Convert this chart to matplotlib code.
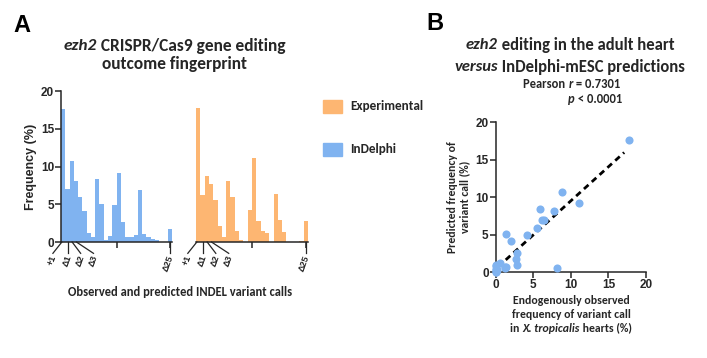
import matplotlib
matplotlib.use('Agg')
import matplotlib.pyplot as plt
import numpy as np
from matplotlib.transforms import blended_transform_factory

plt.rcParams['font.family'] = ['Liberation Sans', 'DejaVu Sans']

# frequency (%) of each variant call, +1 then deletions up to D25
indelphi = [17.6, 7.0, 10.7, 8.1, 5.9, 4.1, 1.2, 0.6, 8.4, 5.1, 0.3, 0.8, 4.9,
            9.2, 2.6, 0.7, 0.7, 0.9, 6.9, 1.0, 0.6, 0.4, 0.3, 0.0, 0.0, 1.7]
experimental = [17.7, 6.2, 8.8, 7.7, 5.5, 2.1, 0.6, 8.1, 5.9, 1.4, 0.2, 0.0, 4.2,
                11.1, 2.8, 1.4, 1.2, 0.0, 6.4, 2.85, 1.3, 0.0, 0.0, 0.0, 0.1, 2.75]
call_labels = ['+1', '\u03941', '\u03942', '\u03943', '\u039425']

blue = '#80b3f0'
orange = '#fdb672'
dark = '#262626'
tfont = ['Carlito', 'DejaVu Sans']
W, H = 707, 358

fig = plt.figure(figsize=(W / 100, H / 100), dpi=100)
rend = fig.canvas.get_renderer()


def rich(x_px, y_px, parts, size, ha='center'):
    # text made of plain / italic pieces, all bold
    texts = []
    for s, it in parts:
        texts.append(fig.text(0, 1 - y_px / H, s, fontsize=size, family=tfont,
                              weight='bold', style='italic' if it else 'normal',
                              va='center', ha='left', color=dark))
    widths = [t.get_window_extent(rend).width for t in texts]
    total = sum(widths)
    if ha == 'center':
        start = x_px - total / 2
    elif ha == 'right':
        start = x_px - total
    else:
        start = x_px
    for t, w in zip(texts, widths):
        t.set_x(start / W)
        start += w


ax1 = fig.add_axes([0.0863, 0.324, 0.157, 0.4218])
ax2 = fig.add_axes([0.2772, 0.324, 0.1584, 0.4218])
ax3 = fig.add_axes([0.7011, 0.2402, 0.2126, 0.419])

x = np.arange(len(indelphi))
ax1.bar(x, indelphi, width=1.0, color=blue, linewidth=0)
ax2.bar(x, experimental, width=1.0, color=orange, linewidth=0)

# leader lines from bar to the label (top x, label x)
line_top = [-0.3, 1.1, 2.1, 3.1, 25]
line_end = [-2.4, 1.1, 4.1, 7.1, 25]

for ax in (ax1, ax2):
    ax.set_xlim(-0.5, 25.5)
    ax.set_ylim(0, 20)
    for s in ['top', 'right']:
        ax.spines[s].set_visible(False)
    ax.spines['bottom'].set_linewidth(1.1)
    ax.spines['bottom'].set_color(dark)
    ax.set_xticks([12.5, 25])
    ax.set_xticklabels([])
    ax.tick_params(axis='x', length=4, width=1.1, color=dark)
    tr = blended_transform_factory(ax.transData, ax.transAxes)
    for lab, t, e in zip(call_labels, line_top, line_end):
        ax.plot([t, e], [0, -0.075], color=dark, lw=0.9, transform=tr, clip_on=False)
        ax.text(e + 0.3, -0.09, lab, transform=tr, rotation=70, rotation_mode='anchor',
                ha='right', va='center', fontsize=6.5, color=dark, weight='bold')

ax1.spines['left'].set_linewidth(1.1)
ax1.spines['left'].set_color(dark)
ax1.set_yticks([0, 5, 10, 15, 20])
ax1.tick_params(axis='y', length=4, width=1.1, color=dark, labelsize=8.5, labelcolor=dark, pad=1)
for lb in ax1.get_yticklabels():
    lb.set_fontweight('bold')
ax1.set_ylabel('Frequency (%)', fontsize=9, color=dark, labelpad=3, weight='bold')
ax2.spines['left'].set_visible(False)
ax2.set_yticks([])

# legend
fig.patches.append(plt.Rectangle((323 / W, 1 - 113 / H), 19 / W, 13 / H,
                                 transform=fig.transFigure, color=orange, figure=fig))
fig.patches.append(plt.Rectangle((323 / W, 1 - 156 / H), 19 / W, 13 / H,
                                 transform=fig.transFigure, color=blue, figure=fig))
rich(350, 106, [('Experimental', False)], 9.5, ha='left')
rich(350, 149, [('InDelphi', False)], 9.5, ha='left')

fig.text(22 / W, 1 - 26 / H, 'A', fontsize=17, ha='center', va='center', weight='bold')
fig.text(435 / W, 1 - 24 / H, 'B', fontsize=17, ha='center', va='center', weight='bold')

rich(175, 46, [('ezh2', True), (' CRISPR/Cas9 gene editing', False)], 12.5)
rich(175, 64, [('outcome fingerprint', False)], 12.5)
rich(180, 292, [('Observed and predicted INDEL variant calls', False)], 9)

# scatter panel
ax3.scatter(experimental, indelphi, s=34, color=blue, linewidths=0, zorder=3, clip_on=False)
slope, icpt = np.polyfit(experimental, indelphi, 1)
fx = np.array([0.3, 17.1])
ax3.plot(fx, slope * fx + icpt, color='black', lw=2.0, ls=(0, (2.2, 1.6)), zorder=2)
ax3.set_xlim(0, 20)
ax3.set_ylim(0, 20)
ax3.set_xticks([0, 5, 10, 15, 20])
ax3.set_yticks([0, 5, 10, 15, 20])
for s in ['top', 'right']:
    ax3.spines[s].set_visible(False)
for s in ['left', 'bottom']:
    ax3.spines[s].set_linewidth(1.1)
    ax3.spines[s].set_color(dark)
ax3.tick_params(length=4, width=1.1, color=dark, labelsize=8.5, labelcolor=dark, pad=1)
for lb in ax3.get_xticklabels() + ax3.get_yticklabels():
    lb.set_fontweight('bold')
ax3.set_ylabel('Predicted frequency of\nvariant call (%)', fontsize=8.5, color=dark,
               family=tfont, weight='bold', labelpad=4, linespacing=1.1)

rich(571, 301, [('Endogenously observed', False)], 8.5)
rich(571, 314, [('frequency of variant call', False)], 8.5)
rich(571, 328, [('in ', False), ('X. tropicalis', True), (' hearts (%)', False)], 8.5)

rich(570, 45, [('ezh2', True), (' editing in the adult heart', False)], 12)
rich(570, 67, [('versus', True), (' InDelphi-mESC predictions', False)], 12)
rich(620, 84, [('Pearson ', False), ('r', True), (' = 0.7301', False)], 9, ha='right')
rich(622, 99, [('p', True), (' < 0.0001', False)], 9, ha='right')

fig.savefig('out.png', dpi=100)
